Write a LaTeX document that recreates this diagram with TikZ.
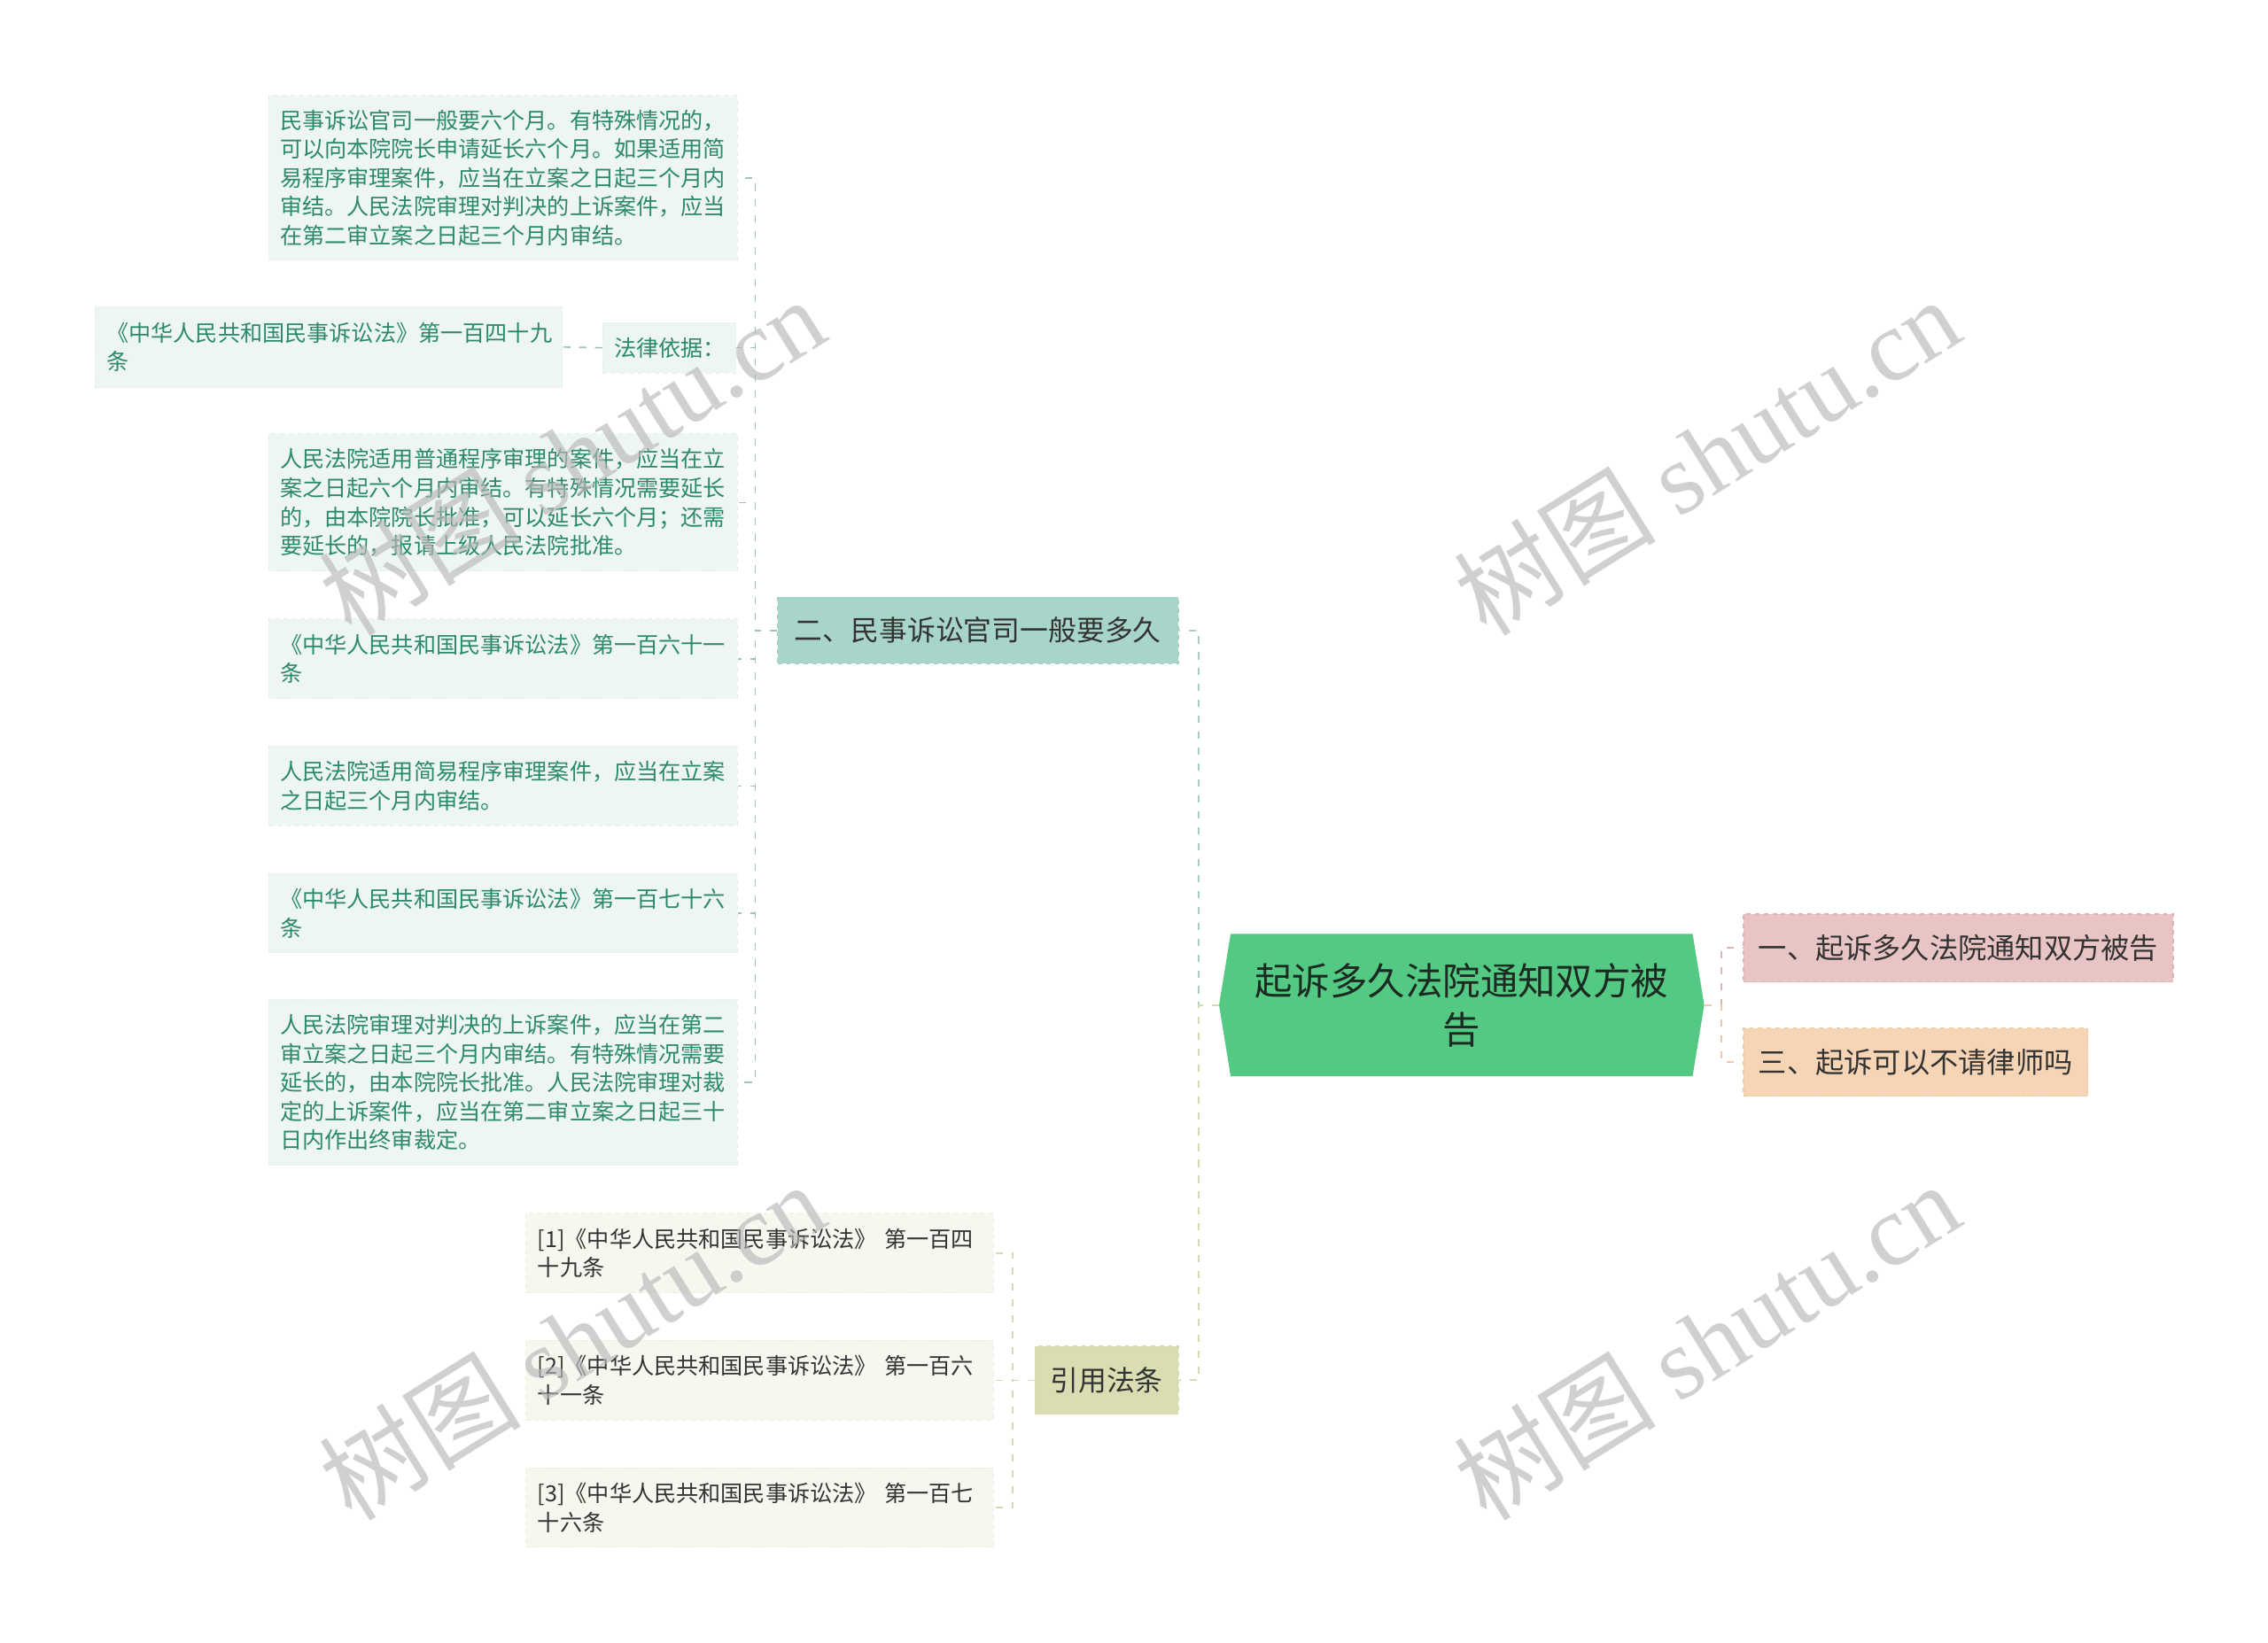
\documentclass[tikz,border=0pt]{standalone}
\usepackage{fontspec}
\setmainfont{Noto Sans CJK SC}
\newfontfamily\wmlatin{Liberation Serif}
\newfontfamily\wmcjk{Noto Sans CJK SC}
\usetikzlibrary{calc}
\pgfdeclarelayer{bottom}
\pgfdeclarelayer{lines}
\pgfsetlayers{bottom,lines,main}
\definecolor{rootfill}{HTML}{53C983}
\definecolor{roottext}{HTML}{1C2B22}
\definecolor{pinkfill}{HTML}{E9C4C4}
\definecolor{pinkline}{HTML}{DDB4B4}
\definecolor{peachfill}{HTML}{F5D5B5}
\definecolor{peachline}{HTML}{EDC9A6}
\definecolor{tealfill}{HTML}{A8D5CA}
\definecolor{tealline}{HTML}{A5CFC6}
\definecolor{olivefill}{HTML}{D9DDB1}
\definecolor{oliveline}{HTML}{D6DAAE}
\definecolor{leaffill}{HTML}{EEF6F4}
\definecolor{leafborder}{HTML}{E2EFEC}
\definecolor{leaftext}{HTML}{2D8A68}
\definecolor{citefill}{HTML}{F6F7EF}
\definecolor{citeborder}{HTML}{ECEEE0}
\definecolor{darktext}{HTML}{333333}
\definecolor{wmgray}{HTML}{B8B8B8}
\tikzset{
  conn/.style={line width=1.2pt, dash pattern=on 5pt off 6pt},
  leafbox/.style={fill=leaffill, draw=leafborder, dashed, line width=0.6pt, text=leaftext,
    font=\fontsize{15.4}{20}\selectfont, align=left, inner xsep=8pt, inner ysep=0pt,
    text width=308pt, anchor=east},
  citebox/.style={fill=citefill, draw=citeborder, dashed, line width=0.6pt, text=darktext,
    font=\fontsize{15.4}{20}\selectfont, align=left, inner xsep=8pt, inner ysep=0pt,
    text width=307pt, anchor=east},
  midbox/.style={dashed, line width=0.8pt, text=darktext, font=\fontsize{19.5}{24}\selectfont,
    inner sep=0pt, minimum height=46pt},
  wm/.style={text=wmgray, opacity=0.65, rotate=32, font=\fontsize{70}{70}\selectfont}
}
\begin{document}
\begin{tikzpicture}[x=1pt,y=-1pt]
\useasboundingbox (0,0) rectangle (1568,1135.6);
\begin{pgfonlayer}{bottom}
\fill[white] (0,0) rectangle (1568,1135.6);
\end{pgfonlayer}

% root
\node[text=roottext, font=\fontsize{26}{34}\selectfont, align=center, inner sep=0pt,
  minimum width=319pt, minimum height=98pt] (root) at (1010.5,695) {起诉多久法院通知双方被\\告};
\coordinate (rootL) at ($(root.west)+(-8,0)$);
\coordinate (rootR) at ($(root.east)+(8,0)$);
\begin{pgfonlayer}{lines}
\fill[rootfill] (root.north west) -- (root.north east) -- (rootR) -- (root.south east) -- (root.south west) -- (rootL) -- cycle;
\end{pgfonlayer}

% right children
\node[midbox, fill=pinkfill, draw=pinkline, minimum width=297pt, minimum height=47pt, anchor=west, font=\fontsize{19.75}{24}\selectfont] (r1) at (1205,655.5) {一、起诉多久法院通知双方被告};
\node[midbox, fill=peachfill, draw=peachline, minimum width=238pt, minimum height=47pt, anchor=west, font=\fontsize{19.75}{24}\selectfont] (r3) at (1205,734.5) {三、起诉可以不请律师吗};

% left children
\node[midbox, fill=tealfill, draw=tealline, minimum width=277pt, anchor=east] (n2) at (815,436) {二、民事诉讼官司一般要多久};
\node[midbox, fill=olivefill, draw=oliveline, minimum width=99pt, minimum height=47pt, anchor=east] (cite) at (815,954.5) {引用法条};

% leaves of n2
\node[leafbox, minimum height=114pt] (c1) at (510,123) {民事诉讼官司一般要六个月。有特殊情况的，\\可以向本院院长申请延长六个月。如果适用简\\易程序审理案件，应当在立案之日起三个月内\\审结。人民法院审理对判决的上诉案件，应当\\在第二审立案之日起三个月内审结。};
\node[leafbox, text width=76pt, minimum height=35pt] (law) at (509,240.5) {法律依据：};
\node[leafbox, text width=307pt, minimum height=56pt] (law149) at (389,240) {《中华人民共和国民事诉讼法》第一百四十九\\条};
\node[leafbox, minimum height=95pt] (c3) at (510,347.5) {人民法院适用普通程序审理的案件，应当在立\\案之日起六个月内审结。有特殊情况需要延长\\的，由本院院长批准，可以延长六个月；还需\\要延长的，报请上级人民法院批准。};
\node[leafbox, minimum height=55pt] (c4) at (510,455.5) {《中华人民共和国民事诉讼法》第一百六十一\\条};
\node[leafbox, minimum height=55pt] (c5) at (510,543.5) {人民法院适用简易程序审理案件，应当在立案\\之日起三个月内审结。};
\node[leafbox, minimum height=55pt] (c6) at (510,631.5) {《中华人民共和国民事诉讼法》第一百七十六\\条};
\node[leafbox, minimum height=115pt] (c7) at (510,748.5) {人民法院审理对判决的上诉案件，应当在第二\\审立案之日起三个月内审结。有特殊情况需要\\延长的，由本院院长批准。人民法院审理对裁\\定的上诉案件，应当在第二审立案之日起三十\\日内作出终审裁定。};

% leaves of cite
\node[citebox, minimum height=55pt] (k1) at (687,866.5) {[1]《中华人民共和国民事诉讼法》 第一百四\\十九条};
\node[citebox, minimum height=55pt] (k2) at (687,954.5) {[2]《中华人民共和国民事诉讼法》 第一百六\\十一条};
\node[citebox, minimum height=55pt] (k3) at (687,1042.5) {[3]《中华人民共和国民事诉讼法》 第一百七\\十六条};

% connectors
\begin{pgfonlayer}{lines}
\draw[conn, draw=tealline] (rootL) -- ++(-14,0) |- (n2.east);
\draw[conn, draw=oliveline] (rootL) -- ++(-14,0) |- (cite.east);
\draw[conn, draw=pinkline] (rootR) -- ++(12,0) |- (r1.west);
\draw[conn, draw=peachline] (rootR) -- ++(12,0) |- (r3.west);
\foreach \c in {c1,law,c3,c4,c5,c6,c7}{
  \draw[conn, draw=tealline!85!gray, line width=1pt] (n2.west) -- ++(-15,0) |- (\c.east);
}
\draw[conn, draw=tealline!85!gray, line width=1pt] (law.west) -- (law149.east);
\foreach \c in {k1,k2,k3}{
  \draw[conn, draw=oliveline, line width=1pt] (cite.west) -- ++(-15,0) |- (\c.east);
}
\end{pgfonlayer}

% watermarks
\node[wm] (wm1) at (395,315) {\wmcjk 树图\ \wmlatin shutu.cn};
\node[wm] (wm2) at (1180,315) {\wmcjk 树图\ \wmlatin shutu.cn};
\node[wm] (wm3) at (395,927) {\wmcjk 树图\ \wmlatin shutu.cn};
\node[wm] (wm4) at (1180,927) {\wmcjk 树图\ \wmlatin shutu.cn};
\end{tikzpicture}
\end{document}
